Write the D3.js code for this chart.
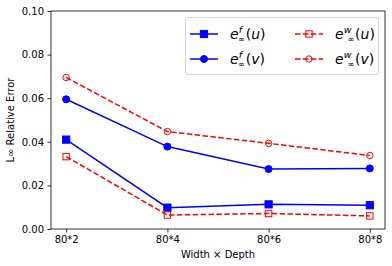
<!DOCTYPE html>
<html><head><meta charset="utf-8">
<script src="https://cdn.jsdelivr.net/npm/d3@7"></script>
<style>body{margin:0;background:#fff;} svg{display:block;font-family:"DejaVu Sans",sans-serif;}</style>
</head><body>
<svg id="c" width="392" height="266"></svg>
<script>
const categories = ["80*2","80*4","80*6","80*8"];
const efU = [0.0410, 0.0098, 0.0113, 0.0109];
const efV = [0.0595, 0.0378, 0.0275, 0.0278];
const ewU = [0.0332, 0.0064, 0.0071, 0.0060];
const ewV = [0.0695, 0.0447, 0.0393, 0.0337];
const yTicks = [0, 0.02, 0.04, 0.06, 0.08, 0.10];

const svg = d3.select("#c");
const L = 51, R = 385, T = 11, B = 229;
const x = d3.scaleLinear().domain([-0.15, 3.15]).range([L, R]);
const y = d3.scaleLinear().domain([0, 0.10]).range([B, T]);

const series = [
  {vals: efU, color: "#0000ff", dash: null, marker: "square", fill: true},
  {vals: efV, color: "#0000ff", dash: null, marker: "circle", fill: true},
  {vals: ewU, color: "#ff0000", dash: "5.5,2.4", marker: "square", fill: false},
  {vals: ewV, color: "#ff0000", dash: "5.5,2.4", marker: "circle", fill: false}
];

const line = d3.line().x((d,i)=>x(i)).y(d=>y(d));
function drawMarker(g, s, cx, cy) {
  if (s.marker === "square") {
    const h = s.fill ? 3.6 : 3.2;
    g.append("rect").attr("x", cx-h).attr("y", cy-h).attr("width", 2*h).attr("height", 2*h)
      .attr("fill", s.fill ? s.color : "none").attr("stroke", s.color).attr("stroke-width", 1);
  } else {
    g.append("circle").attr("cx", cx).attr("cy", cy).attr("r", s.fill ? 3.5 : 3.2)
      .attr("fill", s.fill ? s.color : "none").attr("stroke", s.color).attr("stroke-width", 1);
  }
}
series.forEach(s => {
  svg.append("path").datum(s.vals).attr("d", line).attr("fill", "none")
    .attr("stroke", s.color).attr("stroke-width", 1.5)
    .attr("stroke-dasharray", s.dash);
  const g = svg.append("g");
  s.vals.forEach((v,i) => drawMarker(g, s, x(i), y(v)));
});

// axes
const xAxis = d3.axisBottom(x).tickValues([0,1,2,3]).tickFormat(i=>categories[i]).tickSize(3.5).tickPadding(3.5);
const yAxis = d3.axisLeft(y).tickValues(yTicks).tickFormat(d3.format(".2f")).tickSize(3.5).tickPadding(3.5);
const gx = svg.append("g").attr("transform", `translate(0,${B})`).call(xAxis);
const gy = svg.append("g").attr("transform", `translate(${L},0)`).call(yAxis);
[gx, gy].forEach(g => {
  g.select(".domain").remove();
  g.selectAll("text").attr("font-size", 10).attr("fill", "#000").attr("font-family", "DejaVu Sans");
  g.selectAll("line").attr("stroke", "#000").attr("stroke-width", 0.8);
});
svg.append("rect").attr("x", L).attr("y", T).attr("width", R-L).attr("height", B-T)
  .attr("fill", "none").attr("stroke", "#000").attr("stroke-width", 0.8);

svg.append("text").attr("x", (L+R)/2).attr("y", 258).attr("text-anchor", "middle")
  .attr("font-size", 10).text("Width × Depth");
svg.append("text").attr("transform", `translate(14,${(T+B)/2}) rotate(-90)`)
  .attr("text-anchor", "middle").attr("font-size", 10).text("L∞ Relative Error");

// legend
const lg = svg.append("g");
lg.append("rect").attr("x", 185.5).attr("y", 17.5).attr("width", 193).attr("height", 57).attr("rx", 2.5)
  .attr("fill", "#fff").attr("fill-opacity", 0.8).attr("stroke", "#cccccc").attr("stroke-width", 0.8);
const labels = [["f","u"],["f","v"],["w","u"],["w","v"]];
series.forEach((s, k) => {
  const col = k < 2 ? 0 : 1, row = k % 2;
  const lx = 190 + col * 105, ly = 34 + row * 25;
  lg.append("line").attr("x1", lx).attr("x2", lx+28).attr("y1", ly).attr("y2", ly)
    .attr("stroke", s.color).attr("stroke-width", 1.5).attr("stroke-dasharray", s.dash);
  drawMarker(lg, s, lx+14, ly);
  const t = lg.append("text").attr("x", lx+40).attr("y", ly+5).attr("font-size", 14).attr("fill", "#000");
  t.append("tspan").attr("font-style", "italic").text("e");
  t.append("tspan").attr("font-size", 9.5).attr("font-style", "italic").attr("dy", -6).text(labels[k][0]);
  t.append("tspan").attr("font-size", 8).attr("dx", -4).attr("dy", 9).text("∞");
  t.append("tspan").attr("dy", -3).attr("dx", 1).text("(");
  t.append("tspan").attr("font-style", "italic").text(labels[k][1]);
  t.append("tspan").text(")");
});
</script>
</body></html>
